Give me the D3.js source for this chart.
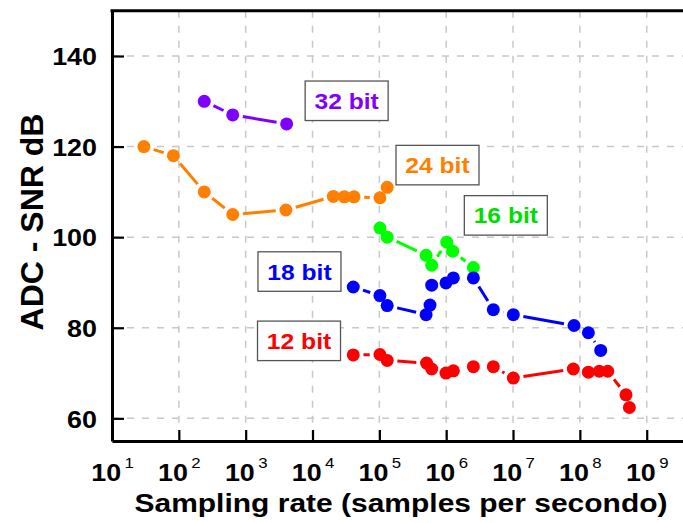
<!DOCTYPE html>
<html>
<head>
<meta charset="utf-8">
<script src="https://cdn.jsdelivr.net/npm/d3@7"></script>
<style>
  body { margin: 0; background: #fff; overflow: hidden; }
  svg { display: block; font-family: Arial, "Liberation Sans", sans-serif; }
</style>
</head>
<body>
<div id="chart"></div>
<script>
// --- data (sampling rate in S/s, SNR in dB) ---
const xTicks = [1e1, 1e2, 1e3, 1e4, 1e5, 1e6, 1e7, 1e8, 1e9];
const yTicks = [60, 80, 100, 120, 140];

const bit32X = [240, 640, 4100];
const bit32Y = [130, 127, 125];

const bit24X = [30, 83, 240, 640, 4000, 20500, 29900, 41800, 102000, 131000];
const bit24Y = [120, 118, 110, 105, 106, 109, 108.9, 108.9, 108.7, 111];

const bit16X = [1.02e5, 1.31e5, 5.0e5, 6.07e5, 1.02e6, 1.25e6, 2.55e6];
const bit16Y = [102, 100, 96, 93.8, 98.9, 96.9, 93.3];

const bit18X = [4.07e4, 1.02e5, 1.31e5, 5.0e5, 5.73e5, 6.07e5, 9.93e5, 1.28e6, 2.55e6, 5.07e6, 1.01e7, 8.17e7, 1.34e8, 2.05e8];
const bit18Y = [89, 87.1, 84.9, 82.9, 85, 89.4, 89.9, 91, 91, 84, 82.9, 80.5, 78.9, 75];

const bit12X = [4.07e4, 1.02e5, 1.31e5, 5.08e5, 6.07e5, 9.93e5, 1.28e6, 2.55e6, 5.07e6, 1.01e7, 7.98e7, 1.34e8, 1.95e8, 2.61e8, 4.9e8, 5.5e8];
const bit12Y = [74, 74.1, 72.8, 72.2, 70.9, 70, 70.5, 71.4, 71.4, 68.9, 70.9, 70.2, 70.4, 70.4, 65.2, 62.4];

const labelNames = ['32 bit', '24 bit', '16 bit', '18 bit', '12 bit'];
const labelX = [32400, 741000, 7.8e6, 6380, 6280];
const labelY = [130.1, 115.9, 104.8, 92.4, 77.1];

const SERIES_COLORS = ['#8000ff', '#ff8000', '#00ff00', '#0000ff', '#ff0000'];
const LABEL_COLORS = ['#8000ff', '#ff8000', '#00dd00', '#0000ff', '#ff0000'];

const series = [
  { xs: bit32X, ys: bit32Y },
  { xs: bit24X, ys: bit24Y },
  { xs: bit16X, ys: bit16Y },
  { xs: bit18X, ys: bit18Y },
  { xs: bit12X, ys: bit12Y }
];

// --- layout ---
const width = 683;
const height = 523;
const plotLeft = 112;
const plotTop = 10.7;
const plotBottom = 441;
const STRETCH = 1.12; // glyphs in the source are a bit wider than Arial
const R = 6.5;
const GAP = 3.7;

const x = d3.scaleLog().domain([1e1, 1e10]).range([plotLeft, plotLeft + 9 * 66.84]);
const y = d3.scaleLinear().domain([55, 150]).range([plotBottom, plotTop]);

const svg = d3.select('#chart').append('svg')
  .attr('width', width)
  .attr('height', height);

// grid
const grid = svg.append('g').attr('class', 'grid')
  .attr('stroke', '#c8c8c8')
  .attr('stroke-width', 1.5)
  .attr('stroke-dasharray', '7,8');

grid.selectAll('line.h')
  .data(yTicks)
  .enter()
  .append('line')
  .attr('class', 'h')
  .attr('x1', plotLeft)
  .attr('x2', width)
  .attr('y1', (d) => y(d))
  .attr('y2', (d) => y(d));

grid.selectAll('line.v')
  .data(xTicks.slice(1))
  .enter()
  .append('line')
  .attr('class', 'v')
  .attr('x1', (d) => x(d))
  .attr('x2', (d) => x(d))
  .attr('y1', plotTop)
  .attr('y2', plotBottom);

// series: segments stop short of each marker, like the source plot
const plot = svg.append('g').attr('class', 'series');

series.forEach((s, i) => {
  const pts = s.xs.map((v, j) => [x(v), y(s.ys[j])]);
  const segs = [];
  for (let j = 1; j < pts.length; j++) {
    const [x1, y1] = pts[j - 1];
    const [x2, y2] = pts[j];
    const len = Math.hypot(x2 - x1, y2 - y1);
    const cut = R + GAP;
    if (len <= 2 * cut) continue;
    const ux = (x2 - x1) / len;
    const uy = (y2 - y1) / len;
    segs.push([x1 + ux * cut, y1 + uy * cut, x2 - ux * cut, y2 - uy * cut]);
  }

  const g = plot.append('g');

  g.selectAll('line')
    .data(segs)
    .enter()
    .append('line')
    .attr('x1', (d) => d[0])
    .attr('y1', (d) => d[1])
    .attr('x2', (d) => d[2])
    .attr('y2', (d) => d[3])
    .attr('stroke', SERIES_COLORS[i])
    .attr('stroke-width', 3);

  g.selectAll('circle')
    .data(pts)
    .enter()
    .append('circle')
    .attr('cx', (d) => d[0])
    .attr('cy', (d) => d[1])
    .attr('r', R)
    .attr('fill', SERIES_COLORS[i]);
});

// label boxes
const labels = svg.append('g').attr('class', 'labels');

labelNames.forEach((name, i) => {
  const cx = x(labelX[i]);
  const cy = y(labelY[i]);
  const g = labels.append('g').attr('transform', `translate(${cx},${cy})`);
  g.append('rect')
    .attr('x', -41.5)
    .attr('y', -19.8)
    .attr('width', 83)
    .attr('height', 39.5)
    .attr('fill', '#fff')
    .attr('stroke', '#555')
    .attr('stroke-width', 1.3);
  g.append('text')
    .attr('transform', `translate(0,8) scale(${STRETCH},1)`)
    .attr('text-anchor', 'middle')
    .attr('font-size', '22px')
    .attr('font-weight', 'bold')
    .attr('fill', LABEL_COLORS[i])
    .text(name);
});

// y axis
const yAxis = svg.append('g')
  .attr('transform', `translate(${plotLeft},0)`)
  .call(d3.axisLeft(y).tickValues(yTicks).tickSizeInner(-12).tickSizeOuter(0).tickPadding(15));

yAxis.select('.domain').attr('stroke', '#000').attr('stroke-width', 3);
yAxis.selectAll('.tick line').attr('stroke', '#000').attr('stroke-width', 2.2);
yAxis.selectAll('.tick text')
  .attr('font-family', 'Arial, "Liberation Sans", sans-serif')
  .attr('font-size', '24px')
  .attr('font-weight', 'bold')
  .attr('fill', '#000')
  .attr('dy', '0.36em')
  .attr('transform', function () {
    const tx = +d3.select(this).attr('x');
    return `translate(${tx},0) scale(${STRETCH},1)`;
  })
  .attr('x', 0);

// x axis
const xAxis = svg.append('g')
  .attr('transform', `translate(0,${plotBottom})`)
  .call(d3.axisBottom(x).tickValues(xTicks).tickSizeInner(-11).tickSizeOuter(0).tickFormat(() => ''));

xAxis.select('.domain').attr('stroke', '#000').attr('stroke-width', 3);
xAxis.selectAll('.tick line').attr('stroke', '#000').attr('stroke-width', 2.2);
xAxis.selectAll('.tick text').remove();

xAxis.selectAll('.tick').each(function (d) {
  const t = d3.select(this).append('text')
    .attr('transform', `translate(0,39.7) scale(${STRETCH},1)`)
    .attr('text-anchor', 'middle')
    .attr('fill', '#000');
  t.append('tspan')
    .attr('font-size', '24px')
    .attr('font-weight', 'bold')
    .text('10');
  t.append('tspan')
    .attr('font-size', '15px')
    .attr('dx', 3)
    .attr('dy', -13)
    .text(Math.round(Math.log10(d)));
});

// top frame line
svg.append('line')
  .attr('x1', plotLeft - 1.5)
  .attr('x2', width)
  .attr('y1', plotTop)
  .attr('y2', plotTop)
  .attr('stroke', '#000')
  .attr('stroke-width', 3);

// axis titles
svg.append('text')
  .attr('x', 401)
  .attr('y', 511.5)
  .attr('text-anchor', 'middle')
  .attr('font-size', '26px')
  .attr('font-weight', 'bold')
  .attr('textLength', 533)
  .attr('lengthAdjust', 'spacingAndGlyphs')
  .text('Sampling rate (samples per secondo)');

svg.append('text')
  .attr('transform', 'translate(43,222) rotate(-90)')
  .attr('text-anchor', 'middle')
  .attr('font-size', '32px')
  .attr('font-weight', 'bold')
  .text('ADC - SNR dB');
</script>
</body>
</html>
